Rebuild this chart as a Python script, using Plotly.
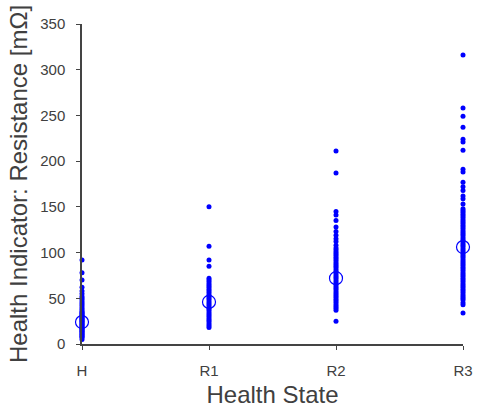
import plotly.graph_objects as go

categories = ["H", "R1", "R2", "R3"]
cat_pos = [1, 2, 3, 4]

h_values = [5, 7, 8, 9, 10, 11, 12, 13, 14, 15, 16, 17, 18, 19, 20, 21, 22, 23, 24, 25,
            26, 27, 28, 29, 30, 31, 32, 33, 34, 35, 36, 38, 40, 42, 44, 46, 48, 50, 52,
            55, 58, 62, 70, 78, 92]
r1_values = [18, 20, 22, 24, 26, 28, 30, 32, 34, 36, 38, 40, 42, 44, 46, 48, 50, 52,
             54, 56, 58, 60, 62, 64, 66, 68, 70, 72, 85, 92, 107, 150]
r2_values = [25, 37, 39, 41, 43, 45, 47, 49, 51, 53, 55, 57, 59, 61, 63, 65, 67, 69,
             71, 73, 75, 77, 79, 81, 83, 85, 87, 89, 91, 93, 95, 97, 99, 101, 103, 105,
             108, 112, 115, 119, 123, 128, 135, 141, 145, 187, 211]
r3_values = [34, 43, 45, 48, 50, 52, 54, 56, 58, 60, 62, 64, 66, 68, 70, 72, 74, 76,
             78, 80, 82, 84, 86, 88, 90, 92, 94, 96, 98, 100, 102, 104, 106, 108, 110,
             112, 114, 116, 118, 120, 122, 124, 126, 128, 130, 132, 134, 136, 138, 140,
             142, 144, 146, 148, 153, 159, 162, 168, 172, 177, 188, 191, 212, 221, 224,
             237, 249, 258, 316]
means = [24, 46, 72, 106]

series = [h_values, r1_values, r2_values, r3_values]

BLUE = "#0000ff"
GRAY = "#404040"
AXIS = "#444444"

fig = go.Figure()
for pos, vals in zip(cat_pos, series):
    fig.add_trace(go.Scatter(
        x=[pos] * len(vals), y=vals, mode="markers",
        marker=dict(color=BLUE, size=5, line=dict(width=0)),
        showlegend=False, hoverinfo="skip", cliponaxis=False))

fig.add_trace(go.Scatter(
    x=cat_pos, y=means, mode="markers",
    marker=dict(symbol="circle-open", color=BLUE, size=13, line=dict(width=1.2, color=BLUE)),
    showlegend=False, hoverinfo="skip", cliponaxis=False))

fig.update_layout(
    width=485, height=416,
    margin=dict(l=82, r=12, t=24, b=70),
    paper_bgcolor="white", plot_bgcolor="white",
    font=dict(family="Liberation Sans, Arial, sans-serif", color=GRAY),
    xaxis=dict(
        range=[1, 4], tickvals=cat_pos, ticktext=categories,
        showgrid=False, zeroline=False, showline=True, linecolor=AXIS, linewidth=1.5,
        ticks="outside", ticklen=4, tickcolor=AXIS, ticklabelstandoff=8,
        tickfont=dict(size=15, color=GRAY),
        title=dict(text="Health State", font=dict(size=24, color=GRAY), standoff=8),
    ),
    yaxis=dict(
        range=[0, 350], tickvals=[0, 50, 100, 150, 200, 250, 300, 350],
        showgrid=False, zeroline=False, showline=True, linecolor=AXIS, linewidth=1.5,
        ticks="outside", ticklen=4, tickcolor=AXIS, ticklabelstandoff=8,
        tickfont=dict(size=15, color=GRAY),
        title=dict(text="Health Indicator: Resistance [mΩ]", font=dict(size=24, color=GRAY), standoff=6),
    ),
)

fig.write_html("out.html")
